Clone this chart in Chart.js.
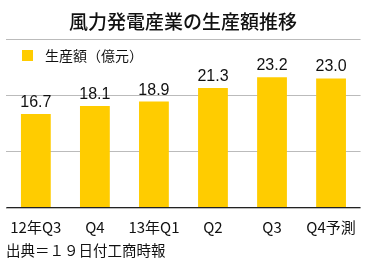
<!DOCTYPE html>
<html>
<head>
<meta charset="utf-8">
<script src="https://cdn.jsdelivr.net/npm/chart.js@4"></script>
<style>
  html, body { margin: 0; padding: 0; background: #fff; }
  #wrap { width: 366px; height: 259px; }
</style>
</head>
<body>
<div id="wrap"><canvas id="windChart" width="366" height="259"></canvas></div>
<script>
const categories = ['12年Q3', 'Q4', '13年Q1', 'Q2', 'Q3', 'Q4予測'];
const values = [16.7, 18.1, 18.9, 21.3, 23.2, 23.0];
const yTicks = [0, 10, 20, 30];

const titleText = '風力発電産業の生産額推移';
const legendText = '生産額（億元）';
const sourceText = '出典＝１９日付工商時報';

const barColor = '#ffcc00';
const jpFont = '"Noto Sans CJK JP", "Liberation Sans", sans-serif';
const numFont = '"Liberation Sans", "Noto Sans CJK JP", sans-serif';

// baseline, title, legend, value labels and source line
const extras = {
    id: 'extras',
    afterDraw(chart) {
        const c = chart.ctx;
        const area = chart.chartArea;
        c.save();

        // dark baseline at zero
        const y0 = Math.round(chart.scales.y.getPixelForValue(0)) - 0.5;
        c.strokeStyle = '#222';
        c.lineWidth = 1.2;
        c.beginPath();
        c.moveTo(area.left, y0);
        c.lineTo(area.right, y0);
        c.stroke();

        c.fillStyle = '#111';
        c.textAlign = 'center';
        c.textBaseline = 'middle';
        c.font = '500 19px ' + jpFont;
        c.fillText(titleText, chart.width / 2, 22);

        // legend
        c.fillStyle = barColor;
        c.fillRect(22, 50, 11, 11);
        c.fillStyle = '#111';
        c.textAlign = 'left';
        c.font = '14px ' + jpFont;
        c.fillText(legendText, 45, 56);

        // values above bars
        const meta = chart.getDatasetMeta(0);
        c.textAlign = 'center';
        c.textBaseline = 'alphabetic';
        c.font = '16px ' + numFont;
        meta.data.forEach((bar, i) => {
            c.fillText(values[i].toFixed(1), bar.x, bar.y - 7);
        });

        // source
        c.textAlign = 'left';
        c.textBaseline = 'middle';
        c.font = '14.5px ' + jpFont;
        c.fillText(sourceText, 6, 250);
        c.restore();
    }
};

new Chart(document.getElementById('windChart'), {
    type: 'bar',
    data: {
        labels: categories,
        datasets: [{
            label: legendText,
            data: values,
            backgroundColor: barColor,
            barPercentage: 0.505,
            categoryPercentage: 1
        }]
    },
    options: {
        responsive: false,
        animation: false,
        layout: { padding: { left: 5, right: 4, top: 39, bottom: 13 } },
        scales: {
            x: {
                grid: { display: false, drawTicks: false },
                border: { display: false },
                ticks: {
                    color: '#111',
                    padding: 10,
                    maxRotation: 0,
                    font: { family: jpFont, size: 15, lineHeight: 1.2 }
                }
            },
            y: {
                min: yTicks[0],
                max: yTicks[yTicks.length - 1],
                afterBuildTicks(scale) { scale.ticks = yTicks.map(v => ({ value: v })); },
                ticks: { display: false },
                grid: { color: '#bbb', drawTicks: false },
                border: { display: false }
            }
        },
        plugins: {
            legend: { display: false },
            tooltip: { enabled: false }
        }
    },
    plugins: [extras]
});
</script>
</body>
</html>
